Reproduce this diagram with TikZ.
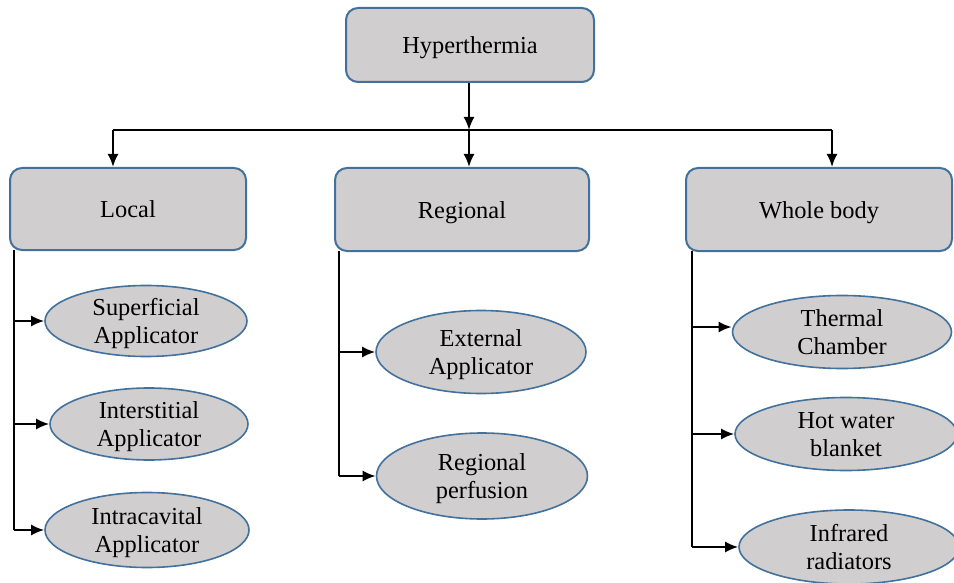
\documentclass[tikz,border=0pt]{standalone}
\usepackage{fontspec}
\setmainfont{Liberation Serif}
\usetikzlibrary{shapes.geometric,arrows.meta}
\definecolor{boxfill}{RGB}{208,206,206}
\definecolor{boxline}{RGB}{65,113,156}

\begin{document}
\begin{tikzpicture}[x=0.5pt,y=-0.5pt,
    mainbox/.style={draw=boxline, fill=boxfill, line width=1pt, rounded corners=6pt,
      inner sep=0pt, text height=9pt, text depth=0pt, font=\fontsize{12.2}{14}\selectfont},
    leaf/.style={ellipse, draw=boxline, fill=boxfill, line width=0.8pt, inner sep=0pt,
      align=center, text height=23.8pt, text depth=1.2pt, font=\fontsize{12.2}{14}\selectfont},
    link/.style={line width=1pt},
    arr/.style={link, -{Latex[length=6.5pt,width=5.5pt]}}]
      \useasboundingbox (0,0) rectangle (954,583);
      \clip (0,0) rectangle (954,583);
      % top level
      \node[mainbox, minimum width=124pt, minimum height=37pt] (hyp) at (470,45) {Hyperthermia};
      % second level
      \node[mainbox, minimum width=118pt, minimum height=41pt] (local) at (128,209) {Local};
      \node[mainbox, minimum width=127pt, minimum height=41.5pt] (regional) at (462,209.5) {Regional};
      \node[mainbox, minimum width=133pt, minimum height=41.5pt] (whole) at (819,209.5) {Whole body};
      % distribution line
      \coordinate (busl) at (113,130);
      \coordinate (busm) at (469,130);
      \coordinate (busr) at (832,130);
      \draw[arr] (hyp.south -| busm) -- (busm);
      \draw[link] (busl) -- (busr);
      \draw[arr] (busl) -- (busl |- local.north);
      \draw[arr] (busm) -- (busm |- regional.north);
      \draw[arr] (busr) -- (busr |- whole.north);
      % local applicators
      \node[leaf, minimum width=101pt, minimum height=35.5pt] (sup) at (146,321) {Superficial\\Applicator};
      \node[leaf, minimum width=99pt, minimum height=36pt] (inter) at (149,424) {Interstitial\\Applicator};
      \node[leaf, minimum width=102pt, minimum height=37.5pt] (intra) at (147,530) {Intracavital\\Applicator};
      \coordinate (ltrunk) at (14,250);
      \draw[link] (ltrunk) -- (ltrunk |- intra);
      \draw[arr] (ltrunk |- sup) -- (sup);
      \draw[arr] (ltrunk |- inter) -- (inter);
      \draw[arr] (ltrunk |- intra) -- (intra);
      % regional
      \node[leaf, minimum width=105pt, minimum height=41.5pt] (ext) at (481,352) {External\\Applicator};
      \node[leaf, minimum width=105.5pt, minimum height=43pt] (perf) at (482,476) {Regional\\perfusion};
      \coordinate (rtrunk) at (339,251);
      \draw[link] (rtrunk) -- (rtrunk |- perf);
      \draw[arr] (rtrunk |- ext) -- (ext);
      \draw[arr] (rtrunk |- perf) -- (perf);
      % whole body
      \node[leaf, minimum width=109.5pt, minimum height=36.5pt] (chamber) at (842,332) {Thermal\\Chamber};
      \node[leaf, minimum width=111pt, minimum height=36.5pt] (blanket) at (846,434) {Hot water\\blanket};
      \node[leaf, minimum width=110pt, minimum height=37pt] (infra) at (849,547) {Infrared\\radiators};
      \coordinate (wtrunk) at (692,251);
      \draw[link] (wtrunk) -- (wtrunk |- infra);
      \draw[arr] ([yshift=2.5pt]wtrunk |- chamber.west) -- ([yshift=2.5pt]chamber.west);
      \draw[arr] (wtrunk |- blanket) -- (blanket);
      \draw[arr] (wtrunk |- infra) -- (infra);
    \end{tikzpicture}
\end{document}
